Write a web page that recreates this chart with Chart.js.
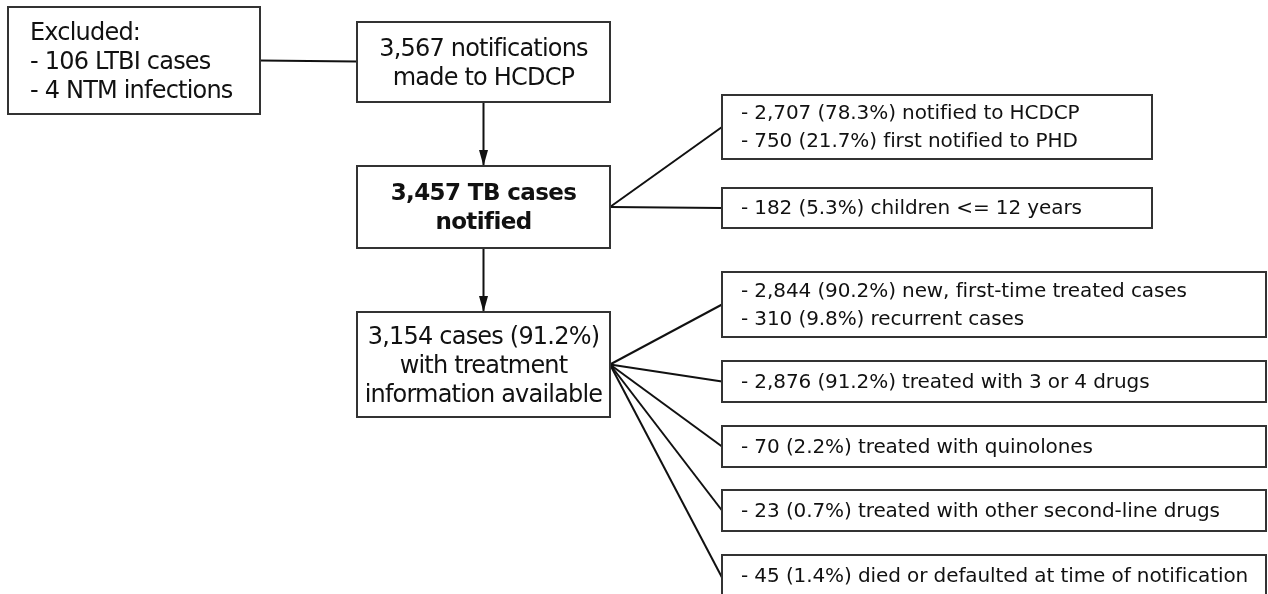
<!DOCTYPE html>
<html>
<head>
<meta charset="utf-8">
<script src="https://cdn.jsdelivr.net/npm/chart.js@4.4.1/dist/chart.umd.min.js"></script>
<style>
    html, body { margin: 0; padding: 0; background: #fff; }
    #wrap { width: 1268px; height: 594px; }
</style>
</head>
<body>
<div id="wrap"><canvas id="flow" width="1268" height="594"></canvas></div>
<script>
/* ==================== Flow boxes (texts) ==================== */
const boxTexts = [
    ['Excluded:', '- 106 LTBI cases', '- 4 NTM infections'],
    ['3,567 notifications', 'made to HCDCP'],
    ['3,457 TB cases', 'notified'],
    ['3,154 cases (91.2%)', 'with treatment', 'information available'],
    ['- 2,707 (78.3%) notified to HCDCP', '- 750 (21.7%) first notified to PHD'],
    ['- 182 (5.3%) children <= 12 years'],
    ['- 2,844 (90.2%) new, first-time treated cases', '- 310 (9.8%) recurrent cases'],
    ['- 2,876 (91.2%) treated with 3 or 4 drugs'],
    ['- 70 (2.2%) treated with quinolones'],
    ['- 23 (0.7%) treated with other second-line drugs'],
    ['- 45 (1.4%) died or defaulted at time of notification']
];
const boxBold = [false, false, true, false, false, false, false, false, false, false, false];
const boxCentered = [false, true, true, true, false, false, false, false, false, false, false];

/* ==================== Layout (chart units) ==================== */
const boxLeft   = [8,   357, 357, 357, 722, 722, 722, 722, 722, 722, 722];
const boxRight  = [260, 610, 610, 610, 1152, 1152, 1266, 1266, 1266, 1266, 1266];
const boxTop    = [7,   22,  166, 312, 95,  188, 272, 361, 426, 490, 555];
const boxBottom = [114, 102, 248, 417, 159, 228, 337, 402, 467, 531, 598];

/* ==================== Connectors [from box, to box, arrow] ==================== */
const linkFrom  = [0, 1, 2, 2, 2, 3, 3, 3, 3, 3];
const linkTo    = [1, 2, 3, 4, 5, 6, 7, 8, 9, 10];
const linkArrow = [false, true, true, false, false, false, false, false, false, false];

function anchorPoints(i) {
    const a = linkFrom[i], b = linkTo[i];
    if (linkArrow[i]) {
        const x = (boxLeft[a] + boxRight[a]) / 2;
        return [{ x: x, y: boxBottom[a] }, { x: x, y: boxTop[b] }];
    }
    if (a === 0) {
        const y = (boxTop[a] + boxBottom[a]) / 2;
        return [{ x: boxRight[a], y: y }, { x: boxLeft[b], y: y + 1 }];
    }
    const fy = (boxTop[a] + boxBottom[a]) / 2;
    const by = boxBottom[b] > 594 ? (boxTop[b] + 594) / 2 + 3 : (boxTop[b] + boxBottom[b]) / 2;
    return [{ x: boxRight[a], y: fy }, { x: boxLeft[b], y: by }];
}

const linkDatasets = linkFrom.map((f, i) => ({
    data: anchorPoints(i),
    showLine: true,
    borderColor: '#111',
    borderWidth: 2,
    pointRadius: 0,
    fill: false
}));

/* ==================== Boxes plugin ==================== */
const boxPlugin = {
    id: 'flowBoxes',
    afterDatasetsDraw(chart) {
        const { ctx, scales } = chart;
        const px = v => scales.x.getPixelForValue(v);
        const py = v => scales.y.getPixelForValue(v);

        ctx.save();
        // arrow heads
        linkFrom.forEach((f, i) => {
            if (!linkArrow[i]) return;
            const pts = anchorPoints(i);
            const tx = px(pts[1].x), ty = py(pts[1].y);
            ctx.fillStyle = '#111';
            ctx.beginPath();
            ctx.moveTo(tx, ty);
            ctx.lineTo(tx - 4.5, ty - 16);
            ctx.lineTo(tx + 4.5, ty - 16);
            ctx.closePath();
            ctx.fill();
        });

        boxTexts.forEach((lines, i) => {
            const x0 = px(boxLeft[i]), x1 = px(boxRight[i]);
            const y0 = py(boxTop[i]), y1 = py(boxBottom[i]);
            ctx.fillStyle = '#fff';
            ctx.fillRect(x0, y0, x1 - x0, y1 - y0);
            ctx.strokeStyle = '#333';
            ctx.lineWidth = 2;
            ctx.strokeRect(x0, y0, x1 - x0, y1 - y0);

            const big = i < 4;
            const size = big ? (boxBold[i] ? 23 : 24) : 20;
            const lh = big ? 29 : 28;
            ctx.font = (boxBold[i] ? 'bold ' : '') + size + 'px "DejaVu Sans"';
            ctx.letterSpacing = big ? (boxBold[i] ? '-0.6px' : '-0.8px') : '-0.1px';
            ctx.fillStyle = '#111';
            ctx.textBaseline = 'middle';
            const cy = (y1 > py(594) ? (y0 + py(594)) / 2 + 1 : (y0 + y1) / 2) + (big ? 2 : 1);
            const startY = cy - (lines.length - 1) * lh / 2;
            lines.forEach((t, k) => {
                if (boxCentered[i]) {
                    ctx.textAlign = 'center';
                    ctx.fillText(t, (x0 + x1) / 2, startY + k * lh);
                } else {
                    ctx.textAlign = 'left';
                    ctx.fillText(t, x0 + (big ? 22 : 19), startY + k * lh);
                }
            });
        });
        ctx.restore();
    }
};

new Chart(document.getElementById('flow'), {
    type: 'scatter',
    data: { datasets: linkDatasets },
    options: {
        responsive: false,
        animation: false,
        layout: { padding: 0 },
        plugins: { legend: { display: false }, tooltip: { enabled: false } },
        scales: {
            x: { type: 'linear', min: 0, max: 1268, display: false },
            y: { type: 'linear', min: 0, max: 594, reverse: true, display: false }
        }
    },
    plugins: [boxPlugin]
});
</script>
</body>
</html>
